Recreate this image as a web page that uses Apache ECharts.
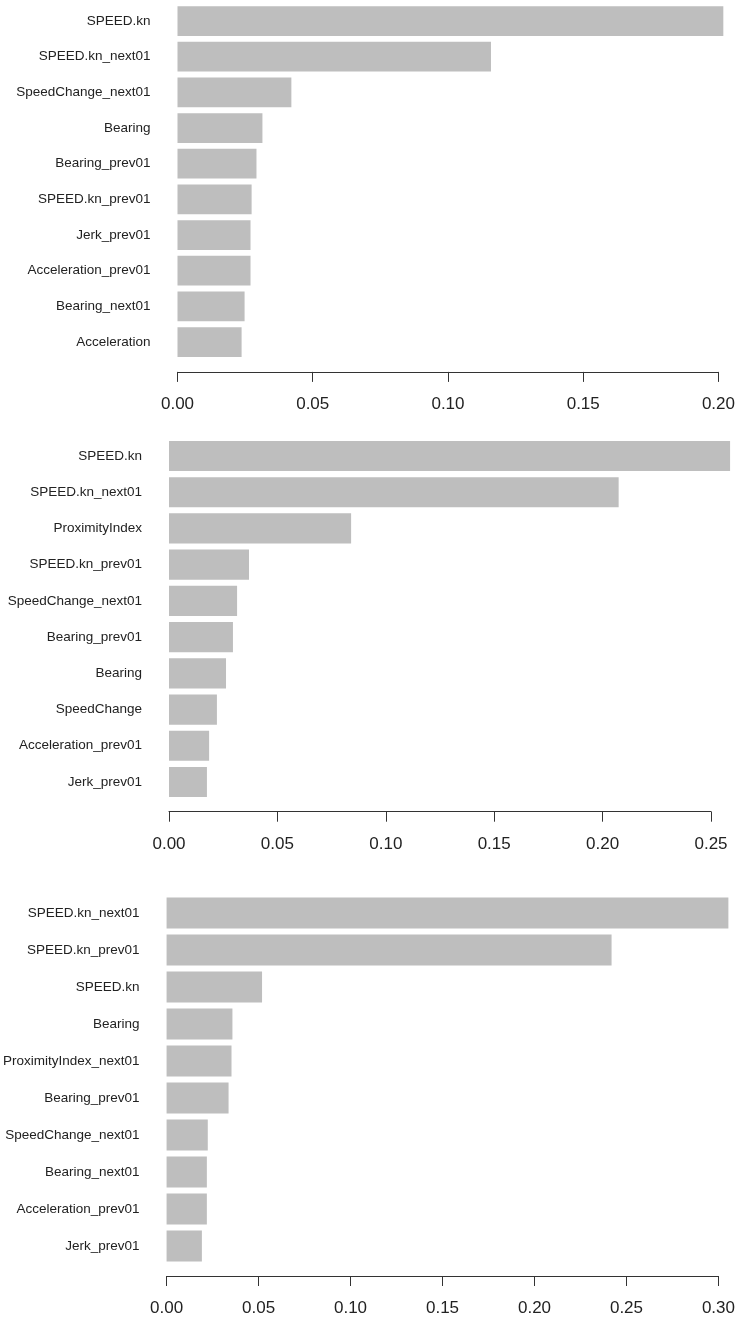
<!DOCTYPE html>
<html>
<head>
<meta charset="utf-8">
<script src="https://cdn.jsdelivr.net/npm/echarts@6/dist/echarts.min.js"></script>
<style>
  html, body { margin: 0; padding: 0; background: #fff; }
  #chart { width: 738px; height: 1321px; }
</style>
</head>
<body>
<div id="chart"></div>
<script>
// Variable importance, three models (top 10 each)
const modelAFeatures = ["SPEED.kn", "SPEED.kn_next01", "SpeedChange_next01", "Bearing", "Bearing_prev01",
  "SPEED.kn_prev01", "Jerk_prev01", "Acceleration_prev01", "Bearing_next01", "Acceleration"];
const modelAImportance = [0.2018, 0.1159, 0.0421, 0.0314, 0.0292, 0.0274, 0.0270, 0.0270, 0.0248, 0.0237];
const modelATicks = [0.00, 0.05, 0.10, 0.15, 0.20];

const modelBFeatures = ["SPEED.kn", "SPEED.kn_next01", "ProximityIndex", "SPEED.kn_prev01", "SpeedChange_next01",
  "Bearing_prev01", "Bearing", "SpeedChange", "Acceleration_prev01", "Jerk_prev01"];
const modelBImportance = [0.2588, 0.2074, 0.0840, 0.0369, 0.0314, 0.0295, 0.0263, 0.0221, 0.0185, 0.0175];
const modelBTicks = [0.00, 0.05, 0.10, 0.15, 0.20, 0.25];

const modelCFeatures = ["SPEED.kn_next01", "SPEED.kn_prev01", "SPEED.kn", "Bearing", "ProximityIndex_next01",
  "Bearing_prev01", "SpeedChange_next01", "Bearing_next01", "Acceleration_prev01", "Jerk_prev01"];
const modelCImportance = [0.3054, 0.2419, 0.0519, 0.0358, 0.0353, 0.0337, 0.0224, 0.0219, 0.0219, 0.0192];
const modelCTicks = [0.00, 0.05, 0.10, 0.15, 0.20, 0.25, 0.30];

const FONT = "'Liberation Sans', Arial, sans-serif";
const BAR_COLOR = "#BEBEBE";
const INK = "#222";

// Plot boxes: one per model, stacked vertically
const panels = [
  { names: modelAFeatures, values: modelAImportance, ticks: modelATicks, left: 177.5, width: 544.5, top: 3.2, height: 356.7, offset: 12 },
  { names: modelBFeatures, values: modelBImportance, ticks: modelBTicks, left: 169, width: 542, top: 437.9, height: 362.2, offset: 11.6 },
  { names: modelCFeatures, values: modelCImportance, ticks: modelCTicks, left: 163.8, width: 561, top: 894.5, height: 370, offset: 11.5 }
];

const grid = [], xAxis = [], yAxis = [], series = [];
panels.forEach((p, i) => {
  const step = p.ticks[1] - p.ticks[0];
  grid.push({ left: p.left, top: p.top, width: p.width, height: p.height, containLabel: false });
  xAxis.push({
    gridIndex: i, type: "value",
    min: p.ticks[0], max: p.ticks[p.ticks.length - 1], interval: step,
    offset: p.offset,
    axisLine: { show: true, lineStyle: { color: "#333", width: 1 } },
    axisTick: { show: true, length: 10, lineStyle: { color: "#333", width: 1 } },
    splitLine: { show: false },
    axisLabel: {
      color: INK, fontFamily: FONT, fontSize: 17, margin: 24,
      showMinLabel: true, showMaxLabel: true,
      formatter: v => v.toFixed(2)
    }
  });
  yAxis.push({
    gridIndex: i, type: "category", data: p.names, inverse: true,
    axisLine: { show: false }, axisTick: { show: false }, splitLine: { show: false },
    axisLabel: { color: INK, fontFamily: FONT, fontSize: 13.5, margin: 27, interval: 0 }
  });
  series.push({
    type: "bar", xAxisIndex: i, yAxisIndex: i, data: p.values,
    barCategoryGap: "16.7%", clip: false, silent: true,
    itemStyle: { color: BAR_COLOR }
  });
});

const chart = echarts.init(document.getElementById("chart"), null, { renderer: "canvas" });
chart.setOption({ animation: false, backgroundColor: "#fff", grid, xAxis, yAxis, series });
</script>
</body>
</html>
